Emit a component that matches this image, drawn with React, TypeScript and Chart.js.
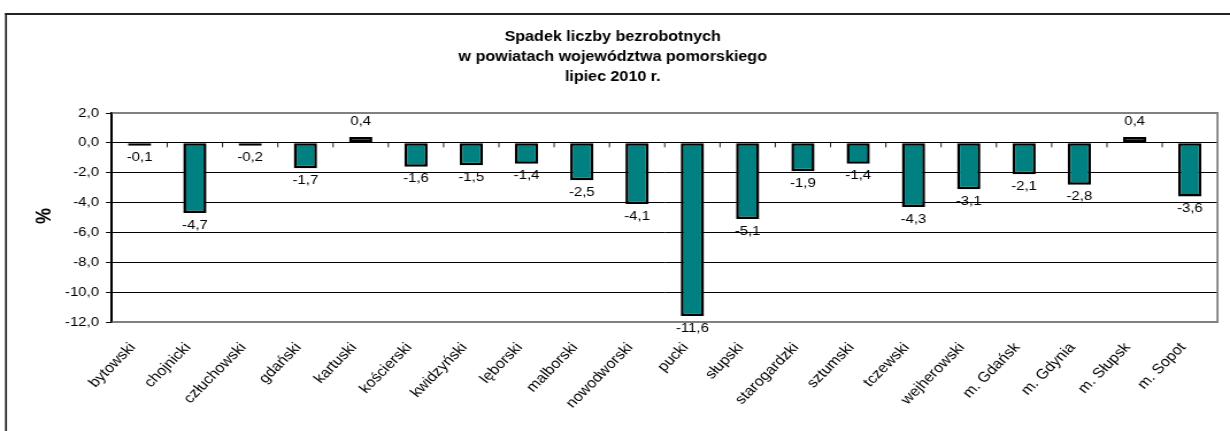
import React, { useEffect, useRef } from "react";
import { Chart, registerables } from "chart.js";

Chart.register(...registerables);

const categories = [
  "bytowski",
  "chojnicki",
  "człuchowski",
  "gdański",
  "kartuski",
  "kościerski",
  "kwidzyński",
  "lęborski",
  "malborski",
  "nowodworski",
  "pucki",
  "słupski",
  "starogardzki",
  "sztumski",
  "tczewski",
  "wejherowski",
  "m. Gdańsk",
  "m. Gdynia",
  "m. Słupsk",
  "m. Sopot",
];

const values = [
  -0.1, -4.7, -0.2, -1.7, 0.4, -1.6, -1.5, -1.4, -2.5, -4.1, -11.6, -5.1, -1.9,
  -1.4, -4.3, -3.1, -2.1, -2.8, 0.4, -3.6,
];

const titleLines = [
  "Spadek liczby bezrobotnych",
  "w powiatach województwa pomorskiego",
  "lipiec 2010 r.",
];
const yAxisTitle = "%";
const yMin = -12;
const yMax = 2;
const yStep = 2;

const W = 1230;
const H = 431;
const SX = 1.15; // horizontal stretch of the original picture
const IW = Math.round(W / SX);
const FONT = "'Liberation Sans', Arial, sans-serif";
// labels appear at 45 degrees on screen, so counter the stretch
const LABEL_ANGLE = Math.atan(SX);

const fmt = (v: number) => (Math.abs(v) < 1e-9 ? 0 : v).toFixed(1).replace(".", ",");

const decor = {
  id: "decor",
  beforeDraw(chart: any) {
    const ctx = chart.ctx as CanvasRenderingContext2D;
    ctx.save();
    ctx.fillStyle = "#fff";
    ctx.fillRect(0, 0, chart.width, chart.height);
    // outer frame
    ctx.strokeStyle = "#222";
    ctx.lineWidth = 2;
    ctx.beginPath();
    ctx.moveTo(5 / SX, 14);
    ctx.lineTo(chart.width, 14);
    ctx.stroke();
    ctx.lineWidth = 2 / SX;
    ctx.beginPath();
    ctx.moveTo(6 / SX, 13);
    ctx.lineTo(6 / SX, chart.height);
    ctx.stroke();
    // title
    ctx.fillStyle = "#000";
    ctx.font = `bold 14px ${FONT}`;
    ctx.textAlign = "center";
    ctx.textBaseline = "middle";
    titleLines.forEach((t, i) => ctx.fillText(t, 613 / SX, 37 + i * 20));
    // y axis title
    ctx.translate(45 / SX, 216);
    ctx.rotate(-Math.PI / 2);
    ctx.font = `bold 18px ${FONT}`;
    ctx.fillText(yAxisTitle, 0, 0);
    ctx.restore();
  },
  afterDatasetsDraw(chart: any) {
    const ctx = chart.ctx as CanvasRenderingContext2D;
    const area = chart.chartArea;
    const yScale = chart.scales.y;
    const xScale = chart.scales.x;
    const y0 = yScale.getPixelForValue(0);
    ctx.save();
    // plot border (grey) top, right, bottom
    ctx.strokeStyle = "#808080";
    ctx.lineWidth = 2;
    ctx.beginPath();
    ctx.moveTo(area.left, area.top);
    ctx.lineTo(area.right, area.top);
    ctx.moveTo(area.left, area.bottom);
    ctx.lineTo(area.right, area.bottom);
    ctx.stroke();
    ctx.lineWidth = 2 / SX;
    ctx.beginPath();
    ctx.moveTo(area.right, area.top - 1);
    ctx.lineTo(area.right, area.bottom + 1);
    ctx.stroke();
    // category tick marks on the zero line
    const n = categories.length;
    const cw = (area.right - area.left) / n;
    ctx.strokeStyle = "#000";
    ctx.lineWidth = 1 / SX;
    ctx.beginPath();
    for (let k = 1; k < n; k++) {
      const x = area.left + k * cw;
      ctx.moveTo(x, y0);
      ctx.lineTo(x, y0 + 4.5);
    }
    ctx.stroke();
    // data labels
    const meta = chart.getDatasetMeta(0);
    ctx.fillStyle = "#000";
    ctx.font = `13px ${FONT}`;
    ctx.textAlign = "center";
    ctx.textBaseline = "middle";
    meta.data.forEach((bar: any, i: number) => {
      const v = values[i];
      const y = v < 0 ? bar.y + 12 : bar.y - 15;
      ctx.fillText(fmt(v), bar.x, y);
    });
    // category labels, rotated
    ctx.font = `14px ${FONT}`;
    ctx.textAlign = "right";
    ctx.textBaseline = "middle";
    categories.forEach((c, i) => {
      const x = xScale.getPixelForValue(i) - 6;
      const y = area.bottom + 23;
      ctx.save();
      ctx.translate(x, y);
      ctx.rotate(-LABEL_ANGLE);
      ctx.fillText(c, 0, 0);
      ctx.restore();
    });
    ctx.restore();
  },
};

export default function App() {
  const ref = useRef<HTMLCanvasElement | null>(null);
  useEffect(() => {
    if (!ref.current) return;
    const chart = new Chart(ref.current, {
      type: "bar",
      data: {
        labels: categories,
        datasets: [
          {
            data: values,
            backgroundColor: "#008080",
            borderColor: "#000",
            borderWidth: 2.5,
            borderSkipped: false,
            minBarLength: 3,
            barPercentage: 0.42,
            categoryPercentage: 1,
          },
        ],
      },
      options: {
        animation: false,
        responsive: false,
        devicePixelRatio: 1,
        layout: { padding: { left: 0, top: 113, right: IW - 1218 / SX, bottom: 0 } },
        plugins: {
          legend: { display: false },
          title: { display: false },
          tooltip: { enabled: false },
        },
        scales: {
          x: {
            grid: { display: false, drawTicks: false },
            border: { display: false },
            ticks: { display: false },
            afterFit: (s: any) => {
              s.height = H - 322;
            },
          },
          y: {
            min: yMin,
            max: yMax,
            ticks: {
              stepSize: yStep,
              color: "#000",
              padding: 6,
              font: { family: FONT, size: 13 },
              callback: (v: any) => fmt(Number(v)),
            },
            grid: { color: "#000", lineWidth: 1, tickLength: 5.2, drawTicks: true },
            border: { display: true, color: "#000", width: 2 },
            afterFit: (s: any) => {
              s.width = 112 / SX;
            },
          },
        },
      },
      plugins: [decor],
    });
    return () => chart.destroy();
  }, []);
  return (
    <div style={{ position: "absolute", left: 0, top: 0, width: W, height: H, overflow: "hidden", background: "#fff" }}>
      <canvas
        ref={ref}
        width={IW}
        height={H}
        style={{ width: `${W}px`, height: `${H}px`, display: "block" }}
      />
    </div>
  );
}
